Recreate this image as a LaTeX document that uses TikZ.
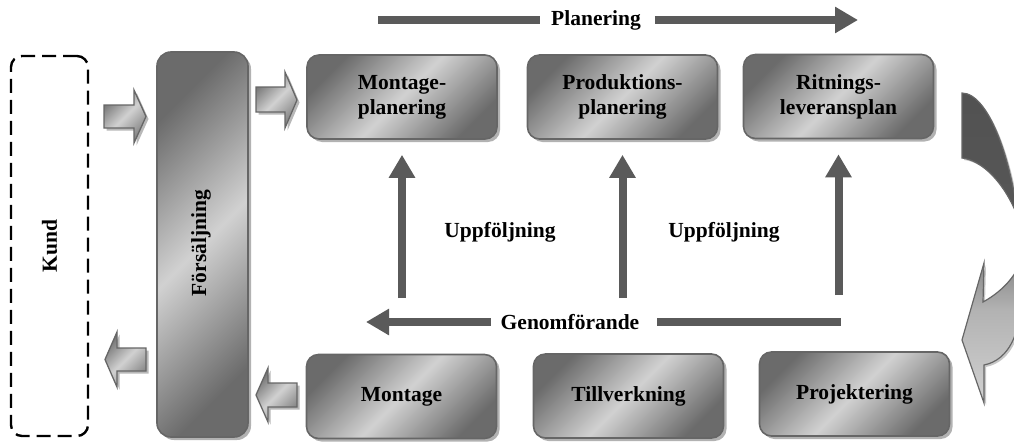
\documentclass[tikz,border=0pt]{standalone}
\usepackage{fontspec}
\setmainfont{Liberation Serif}
\usetikzlibrary{arrows.meta,shadows}
\definecolor{linegray}{HTML}{5A5A5A}
\definecolor{edgegray}{HTML}{666666}
% vertical fade for the bent return arrow: dark above, light below
\pgfdeclareverticalshading{bendshade}{100bp}{color(0bp)=(black!18); color(25bp)=(black!18); color(40bp)=(black!30); color(56bp)=(black!66); color(75bp)=(black!68); color(100bp)=(black!68)}
\tikzset{
  lbl/.style={font=\fontsize{21.5}{25}\selectfont\bfseries, align=center, inner sep=0pt, text=black},
  shadowed/.style={drop shadow={shadow xshift=3pt, shadow yshift=-3pt, fill=black!30, opacity=1}},
  stage/.style={lbl, draw=edgegray, line width=1.6pt, rounded corners=12pt,
    top color=black!58, bottom color=black!58, middle color=black!18, shading angle=45,
    shadowed, minimum width=190pt, minimum height=84pt},
  fat/.style={draw=edgegray, line width=1.3pt, miter limit=20,
    top color=black!55, bottom color=black!50, middle color=black!18, shading angle=45,
    drop shadow={shadow xshift=2.5pt, shadow yshift=-2.5pt, fill=black!28, opacity=1}},
  flow/.style={draw=linegray, line width=8pt, -{Triangle[width=25pt,length=23pt]}},
  flowline/.style={draw=linegray, line width=8pt},
  returnarrow/.style={shading=bendshade, draw=edgegray, line width=1.2pt, miter limit=20,
    drop shadow={shadow xshift=2pt, shadow yshift=-2pt, fill=black!22, opacity=1}}
}
\begin{document}
\begin{tikzpicture}[x=1pt,y=-1pt]
\useasboundingbox (0,0) rectangle (1014,442);
\clip (0,0) rectangle (1014,442);

% customer (dashed outline)
\node[draw=black, line width=2.4pt, dash pattern=on 14pt off 7pt, rounded corners=11pt,
      minimum width=77pt, minimum height=380pt] (kund) at (49.5,246) {};
\node[lbl, rotate=90] (kundtxt) at (kund.center) {Kund};

% sales column
\node[stage, rounded corners=14pt, minimum width=91pt, minimum height=385pt] (fs) at (202.5,244.5) {};
\node[lbl, rotate=90] (fstxt) at (201,243) {Försäljning};

% planning row
\node[stage] (mp) at (402,97) {Montage-\\planering};
\node[stage] (pp) at (622.5,97) {Produktions-\\planering};
\node[stage] (rl) at (838.5,96.5) {Ritnings-\\leveransplan};

% execution row
\node[stage] (mo) at (401.5,396.5) {Montage};
\node[stage] (tv) at (628.5,396) {Tillverkning};
\node[stage] (pj) at (854.5,394) {Projektering};

% block arrows between customer, sales and planning/assembly
\path[fat] (104,105) -- (134,105) -- (134,90) -- (146,116.5) -- (134,143) -- (134,128) -- (104,128) -- cycle;
\path[fat] (256,87) -- (285,87) -- (285,72) -- (297,100) -- (285,128) -- (285,112) -- (256,112) -- cycle;
\path[fat] (146,348) -- (117,348) -- (117,332) -- (105,359.5) -- (117,387) -- (117,371) -- (146,371) -- cycle;
\path[fat] (297,383) -- (268,383) -- (268,368) -- (256,395) -- (268,422) -- (268,407) -- (297,407) -- cycle;

% bent arrow from drawing delivery plan down to design
\path[returnarrow] (962,93) .. controls (990,93) and (1018,170) .. (1022,262)
  .. controls (1026,335) and (1008,360) .. (984,365)
  -- (984,403) -- (962,340) -- (984,263) -- (983,302)
  .. controls (1005,290) and (1022,270) .. (1024,248)
  .. controls (1024,215) and (995,162) .. (962,158) -- cycle;

% planning direction
\node[lbl] (plan) at (596,20) {Planering};
\coordinate (planL) at (378,20);
\coordinate (planR) at (858,20);
\draw[flowline] (planL) -- ([xshift=-11pt]plan.west);
\draw[flow] ([xshift=14pt]plan.east) -- (planR);

% execution direction
\node[lbl] (gen) at (570,322) {Genomförande};
\coordinate (genL) at (366,322);
\coordinate (genR) at (841,322);
\draw[flow] ([xshift=-10pt]gen.west) -- (genL);
\draw[flowline] ([xshift=18pt]gen.east) -- (genR);

% follow-up arrows
\coordinate (u1) at (402,298);
\coordinate (u2) at (622.5,298);
\coordinate (u3) at (838.5,295);
\draw[flow] (u1) -- ([yshift=-15pt]mp.south);
\draw[flow] (u2) -- ([yshift=-15pt]pp.south);
\draw[flow] (u3) -- ([yshift=-15pt]rl.south);
\node[lbl] (up1) at (500,232) {Uppföljning};
\node[lbl] (up2) at (724,232) {Uppföljning};
\end{tikzpicture}
\end{document}
